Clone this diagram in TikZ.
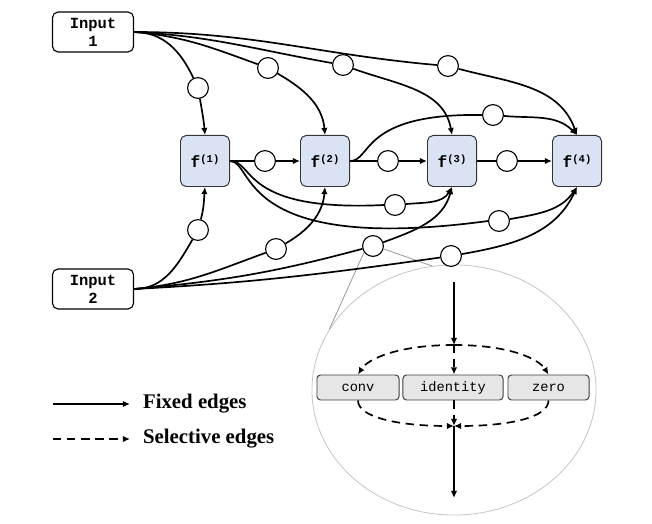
\documentclass[tikz,border=0pt]{standalone}
\usepackage{fontspec}
\setmainfont{Liberation Serif}
\setmonofont{Liberation Mono}
\usepackage{xcolor}
\usetikzlibrary{arrows.meta,positioning,shapes.geometric,calc}

\definecolor{fblue}{RGB}{218,227,243}
\definecolor{opgray}{RGB}{230,230,230}

\newcommand{\fsup}[1]{f\raisebox{.6ex}{\fontsize{7.5}{8}\selectfont(#1)}}

\tikzset{
  inbox/.style = {draw, rounded corners=4pt, line width=0.8pt, fill=white,
    minimum width=2.025cm, minimum height=1cm, inner sep=0pt, align=center,
    font=\fontsize{11}{13}\selectfont\ttfamily\bfseries},
  fnode/.style = {draw=black!80, rounded corners=4pt, line width=0.7pt, fill=fblue,
    minimum width=1.225cm, minimum height=1.275cm, inner sep=0pt,
    font=\fontsize{11.5}{13}\selectfont\ttfamily\bfseries},
  opnode/.style = {circle, draw, line width=0.8pt, fill=white,
    minimum size=0.52cm, inner sep=0pt},
  opbox/.style = {draw=black!75, rounded corners=2.5pt, line width=0.7pt, fill=opgray,
    minimum height=0.625cm, inner sep=0pt, font=\fontsize{9.75}{11}\selectfont\ttfamily},
  edge/.style = {line width=1.2pt},
  arr/.style = {edge, -{Latex[length=5pt,width=4.5pt]}},
  sel/.style = {arr, dash pattern=on 6pt off 4pt},
  legend/.style = {inner sep=0pt, font=\fontsize{14.8}{16}\selectfont\bfseries}
}

\begin{document}
\begin{tikzpicture}[x=0.025cm, y=-0.025cm]

\useasboundingbox (0,0) rectangle (652,524);

\node[ellipse, draw=black!22, line width=0.6pt, minimum width=7.1cm,
  minimum height=6.25cm, inner sep=0pt] (Z) at (454,390) {};

\node[inbox] (I1) at (93,32) {Input\\1};
\node[inbox] (I2) at (93,289) {Input\\2};

\node[fnode] (F1) at (205,161) {\fsup{1}};
\node[fnode] (F2) at (325,161) {\fsup{2}};
\node[fnode] (F3) at (452,161) {\fsup{3}};
\node[fnode] (F4) at (577,161) {\fsup{4}};

\node[opnode] (a1) at (198,88) {};
\node[opnode] (a2) at (268,68) {};
\node[opnode] (a3) at (343,65) {};
\node[opnode] (a4) at (448,66) {};

\node[opnode] (b1) at (198,230) {};
\node[opnode] (b2) at (276,249) {};
\node[opnode] (b3) at (373,246) {};
\node[opnode] (b4) at (451,256) {};

\node[opnode] (c12) at (265,161) {};
\node[opnode] (c23) at (388,161) {};
\node[opnode] (c34) at (507,161) {};
\node[opnode] (c24) at (493,115) {};
\node[opnode] (c13) at (395,205) {};
\node[opnode] (c14) at (499,221) {};

\draw[black!45, line width=0.5pt] (b3.215) -- (Z.154);
\draw[black!45, line width=0.5pt] (b3.-15) -- (Z.100);

\draw[edge] (I1.east) to[out=0, in=115] (a1);
\draw[arr] (a1) to[out=-80, in=95] (F1.north);
\draw[edge] (I1.east) to[out=-5, in=160] (a2);
\draw[arr] (a2) to[out=-30, in=95] (F2.north);
\draw[edge] (I1.east) to[out=-3, in=170] (a3);
\draw[arr] (a3) to[out=-20, in=100] (F3.north);
\draw[edge] (I1.east) to[out=0, in=175] (a4);
\draw[arr] (a4) to[out=-15, in=110] (F4.north);

\draw[edge] (I2.east) to[out=0, in=-120] (b1);
\draw[arr] (b1) to[out=75, in=-95] (F1.south);
\draw[edge] (I2.east) to[out=5, in=200] (b2);
\draw[arr] (b2) to[out=30, in=-95] (F2.south);
\draw[edge] (I2.east) to[out=5, in=195] (b3);
\draw[arr] (b3) to[out=20, in=-105] (F3.south);
\draw[edge] (I2.east) to[out=3, in=188] (b4);
\draw[arr] (b4) to[out=10, in=-115] (F4.south);

\draw[edge] (F1) -- (c12);
\draw[arr] (c12) -- (F2);
\draw[edge] (F2) -- (c23);
\draw[arr] (c23) -- (F3);
\draw[edge] (F3) -- (c34);
\draw[arr] (c34) -- (F4);

\draw[edge] (F2.east) .. controls (372,161) and (360,113) .. (c24.west);
\draw[arr] (c24) to[out=-5, in=135] (F4.north);
\draw[edge] (F1.east) .. controls (255,161) and (240,212) .. (c13.west);
\draw[arr] (c13) to[out=5, in=-120] (F3.south);
\draw[edge] (F1.east) .. controls (255,161) and (235,255) .. (c14.west);
\draw[arr] (c14) to[out=10, in=-125] (F4.south);

\node[opbox, minimum width=2.05cm] (conv) at (358,387.5) {conv};
\node[opbox, minimum width=2.5cm] (ident) at (453,387.5) {identity};
\node[opbox, minimum width=2.025cm] (zero) at (548.5,387.5) {zero};

\coordinate (top) at (454,282);
\coordinate (split) at (454,345);
\coordinate (join) at (454,426);
\coordinate (bot) at (454,498);

\draw[arr] (top) -- (split);
\draw[sel] (split) .. controls +(-55,0) and +(10,-16) .. (conv.north);
\draw[sel] (split) .. controls +(55,0) and +(-10,-16) .. (zero.north);
\draw[sel] (split) -- (ident.north -| split);
\draw[sel] (conv.south) .. controls +(0,17) and +(-55,0) .. (join);
\draw[sel] (zero.south) .. controls +(0,17) and +(55,0) .. (join);
\draw[sel] (ident.south -| join) -- (join);
\draw[arr] (join) -- (bot);

\coordinate (L1a) at (53,404);
\coordinate (L1b) at (130,404);
\coordinate (L2a) at (53,439);
\coordinate (L2b) at (130,439);
\draw[arr] (L1a) -- (L1b);
\draw[sel] (L2a) -- (L2b);
\node[legend, right=0.32cm of L1b] (L1) {Fixed edges};
\node[legend, right=0.32cm of L2b] (L2) {Selective edges};

\end{tikzpicture}
\end{document}
